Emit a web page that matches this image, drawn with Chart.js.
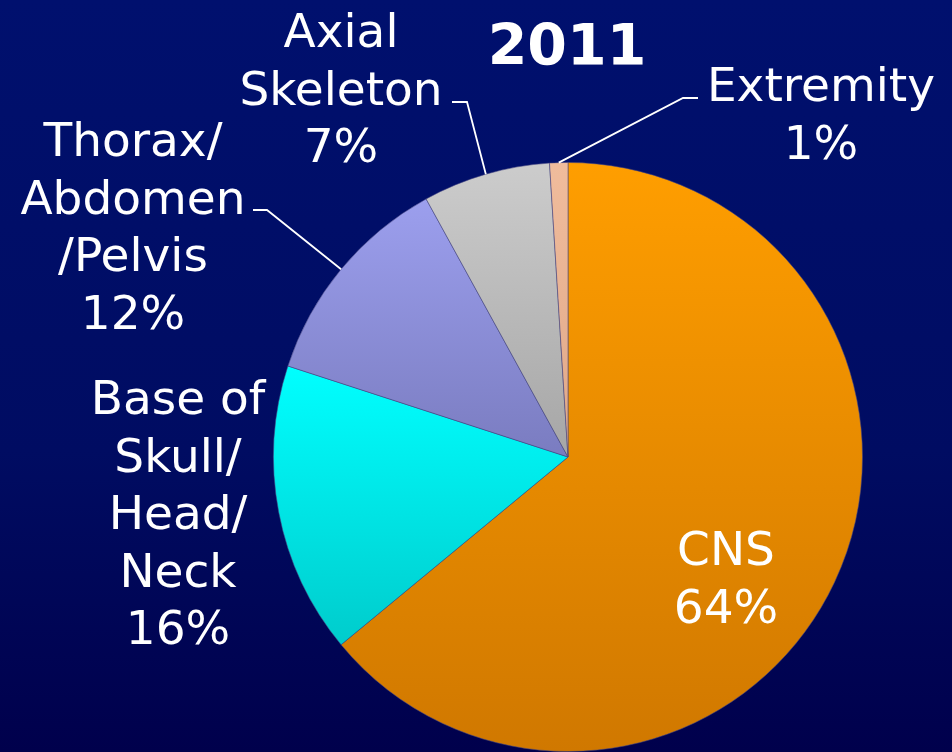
<!DOCTYPE html>
<html>
<head>
<meta charset="utf-8">
<title>2011</title>
<script src="https://cdn.jsdelivr.net/npm/chart.js@4/dist/chart.umd.min.js"></script>
<style>
  html, body { margin: 0; padding: 0; background: #000a5e; }
  canvas { display: block; }
</style>
</head>
<body>
<canvas id="pieChart" width="952" height="752"></canvas>
<script>
  'use strict';

  const categories = ['CNS', 'Base of Skull/Head/Neck', 'Thorax/Abdomen/Pelvis', 'Axial Skeleton', 'Extremity'];
  const labelLines = [
    ['CNS', '64%'],
    ['Base of', 'Skull/', 'Head/', 'Neck', '16%'],
    ['Thorax/', 'Abdomen', '/Pelvis', '12%'],
    ['Axial', 'Skeleton', '7%'],
    ['Extremity', '1%']
  ];
  const shares = [64, 16, 12, 7, 1];
  const chartTitle = '2011';

  const topColors = ['#ff9e00', '#00ffff', '#9c9fee', '#cccccc', '#f0bc9c'];
  const bottomColors = ['#d07800', '#00cccc', '#7a7cc0', '#a6a6a6', '#e0a888'];

  // where each label block sits (centre x, centre of first line) and its leader elbow
  const labelSpots = [
    { x: 726, y: 548, leader: null },
    { x: 178, y: 397, leader: null },
    { x: 133, y: 139, leader: [253, 210, 267, 210] },
    { x: 341, y: 30, leader: [452, 102, 467, 102] },
    { x: 821, y: 84, leader: [698, 98, 683, 98] }
  ];

  const FONT = '"DejaVu Sans", Verdana, sans-serif';

  // vertical extent of a slice, so each one gets its own top-to-bottom gradient
  function sliceGradient(context) {
    const chart = context.chart;
    const i = context.dataIndex;
    const area = chart.chartArea;
    if (!area) return topColors[i];

    const cx = (area.left + area.right) / 2;
    const cy = (area.top + area.bottom) / 2;
    const r = (Math.min(area.width, area.height) - 1) / 2;
    const total = shares.reduce((a, b) => a + b, 0);
    const before = shares.slice(0, i).reduce((a, b) => a + b, 0);
    const a0 = -Math.PI / 2 + 2 * Math.PI * before / total;
    const a1 = a0 + 2 * Math.PI * shares[i] / total;

    const ys = [cy, cy + r * Math.sin(a0), cy + r * Math.sin(a1)];
    for (let k = -1; k <= 2; k++) {
      const up = -Math.PI / 2 + 2 * Math.PI * k;
      const down = Math.PI / 2 + 2 * Math.PI * k;
      if (up >= a0 && up <= a1) ys.push(cy - r);
      if (down >= a0 && down <= a1) ys.push(cy + r);
    }
    const g = chart.ctx.createLinearGradient(0, Math.min(...ys), 0, Math.max(...ys));
    g.addColorStop(0, topColors[i]);
    g.addColorStop(1, bottomColors[i]);
    return g;
  }

  const backdrop = {
    id: 'backdrop',
    beforeDraw(chart) {
      const ctx = chart.ctx;
      const g = ctx.createLinearGradient(0, 0, 0, chart.height);
      g.addColorStop(0, '#00106e');
      g.addColorStop(0.6, '#000c62');
      g.addColorStop(1, '#00004c');
      ctx.save();
      ctx.fillStyle = g;
      ctx.fillRect(0, 0, chart.width, chart.height);
      ctx.restore();
    }
  };

  const sliceLabels = {
    id: 'sliceLabels',
    afterDatasetsDraw(chart) {
      const ctx = chart.ctx;
      const meta = chart.getDatasetMeta(0);
      const size = 47;
      const lineH = 57.5;

      ctx.save();
      ctx.fillStyle = '#ffffff';
      ctx.strokeStyle = '#ffffff';
      ctx.lineWidth = 1.8;
      ctx.textAlign = 'center';
      ctx.textBaseline = 'alphabetic';
      ctx.font = size + 'px ' + FONT;

      meta.data.forEach((arc, i) => {
        const spot = labelSpots[i];
        labelLines[i].forEach((line, j) => {
          ctx.fillText(line, spot.x, spot.y + j * lineH + size * 0.365);
        });

        if (spot.leader) {
          const p = arc.getProps(['x', 'y', 'startAngle', 'endAngle', 'outerRadius'], true);
          const mid = (p.startAngle + p.endAngle) / 2;
          const ex = p.x + Math.cos(mid) * p.outerRadius;
          const ey = p.y + Math.sin(mid) * p.outerRadius;
          const l = spot.leader;
          ctx.beginPath();
          ctx.moveTo(l[0], l[1]);
          ctx.lineTo(l[2], l[3]);
          ctx.lineTo(ex, ey);
          ctx.stroke();
        }
      });

      ctx.font = 'bold 57px ' + FONT;
      ctx.fillText(chartTitle, 567, 65);
      ctx.restore();
    }
  };

  new Chart(document.getElementById('pieChart'), {
    type: 'pie',
    data: {
      labels: categories,
      datasets: [{
        data: shares,
        backgroundColor: sliceGradient,
        borderColor: 'rgba(70, 70, 130, 0.55)',
        borderWidth: 1,
        hoverOffset: 0
      }]
    },
    options: {
      responsive: false,
      animation: false,
      layout: {
        padding: { left: 273, right: 89, top: 162, bottom: 0 }
      },
      plugins: {
        legend: { display: false },
        tooltip: { enabled: false }
      }
    },
    plugins: [backdrop, sliceLabels]
  });
</script>
</body>
</html>
